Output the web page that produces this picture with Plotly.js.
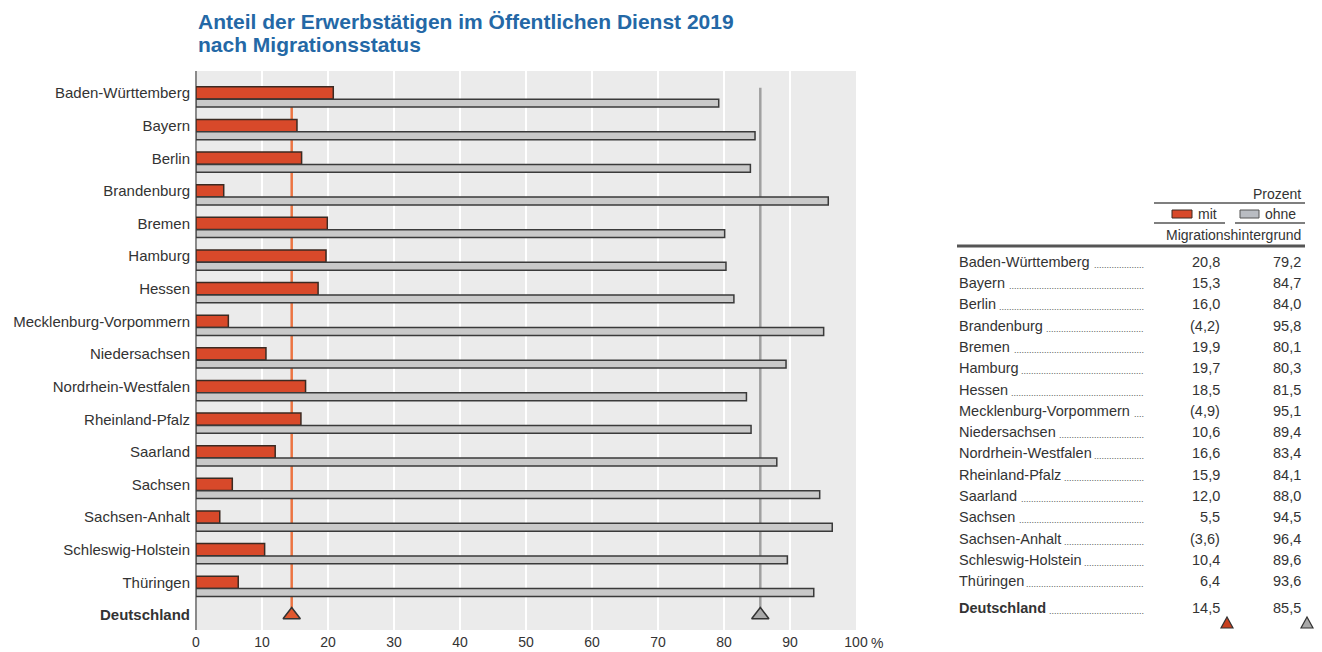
<!DOCTYPE html>
<html>
<head>
<meta charset="utf-8">
<script src="https://cdn.plot.ly/plotly-3.0.1.min.js"></script>
<style>html,body{margin:0;padding:0;background:#fff;}#chart{width:1322px;height:652px;}</style>
</head>
<body>
<div id="chart"></div>
<script>
// ---- data ----
const states = ["Baden-Württemberg","Bayern","Berlin","Brandenburg","Bremen","Hamburg","Hessen","Mecklenburg-Vorpommern","Niedersachsen","Nordrhein-Westfalen","Rheinland-Pfalz","Saarland","Sachsen","Sachsen-Anhalt","Schleswig-Holstein","Thüringen"];
const mitValues = [20.8,15.3,16.0,4.2,19.9,19.7,18.5,4.9,10.6,16.6,15.9,12.0,5.5,3.6,10.4,6.4];
const ohneValues = [79.2,84.7,84.0,95.8,80.1,80.3,81.5,95.1,89.4,83.4,84.1,88.0,94.5,96.4,89.6,93.6];
const mitBracketed = [false,false,false,true,false,false,false,true,false,false,false,false,false,true,false,false];
const totalLabel = "Deutschland";
const totalMit = 14.5;
const totalOhne = 85.5;
const xTickVals = [0,10,20,30,40,50,60,70,80,90,100];
const xTickText = ["0","10","20","30","40","50","60","70","80","90","100"];
const titleLines = ["Anteil der Erwerbstätigen im Öffentlichen Dienst 2019","nach Migrationsstatus"];
const unitText = "Prozent";
const legendMit = "mit";
const legendOhne = "ohne";
const legendSub = "Migrationshintergrund";

// ---- styling ----
const FAM = "'Liberation Sans', Arial, sans-serif";
const TXT = "#333333";
const ORANGE = "#d8492a";
const ORANGE_LINE = "#ec7442";
const GREY = "#c9c9c9";
const OUTLINE = "#3a3a3a";

const W = 1322, H = 652;
const M = {l:196, r:466, t:71, b:22};
const plotW = W - M.l - M.r, plotH = H - M.t - M.b;
const px = x => (x - M.l) / plotW;          // pixel x -> paper
const py = y => (H - M.b - y) / plotH;      // pixel y -> paper

const cnv = document.createElement('canvas').getContext('2d');
function textW(str, size, bold){ cnv.font = (bold?'bold ':'') + size + 'px "Liberation Sans", Arial, sans-serif'; return cnv.measureText(str).width; }

const n = states.length;
const yIdx = states.map((s,i)=>i);
const fmt = v => v.toFixed(1).replace('.', ',');

const traces = [
  {type:'bar', orientation:'h', x:mitValues, y:yIdx, base:0, offset:-0.19, width:0.375,
   marker:{color:ORANGE, line:{color:'#3b2a22', width:1.5}}, hoverinfo:'x'},
  {type:'bar', orientation:'h', x:ohneValues, y:yIdx, base:0, offset:0.19, width:0.24,
   marker:{color:GREY, line:{color:OUTLINE, width:1.5}}, hoverinfo:'x'},
  {type:'scatter', mode:'markers', x:[totalMit], y:[n], marker:{symbol:'triangle-up', size:15, color:'#e0582f', line:{color:'#333', width:1.5}}, hoverinfo:'x'},
  {type:'scatter', mode:'markers', x:[totalOhne], y:[n], marker:{symbol:'triangle-up', size:15, color:'#a9a9a9', line:{color:'#333', width:1.5}}, hoverinfo:'x'}
];

const shapes = [
  {type:'line', xref:'x', yref:'y', x0:totalMit, x1:totalMit, y0:-0.16, y1:n, line:{color:ORANGE_LINE, width:2.5}, layer:'below'},
  {type:'line', xref:'x', yref:'y', x0:totalOhne, x1:totalOhne, y0:-0.16, y1:n, line:{color:'#a0a0a0', width:2.5}, layer:'below'},
  // table rules
  {type:'line', xref:'paper', yref:'paper', x0:px(1154), x1:px(1305), y0:py(203), y1:py(203), line:{color:'#555', width:1.5}},
  {type:'line', xref:'paper', yref:'paper', x0:px(1154), x1:px(1225), y0:py(223), y1:py(223), line:{color:'#555', width:1.5}},
  {type:'line', xref:'paper', yref:'paper', x0:px(1235), x1:px(1305), y0:py(223), y1:py(223), line:{color:'#555', width:1.5}},
  {type:'line', xref:'paper', yref:'paper', x0:px(957), x1:px(1305), y0:py(246), y1:py(246), line:{color:'#555', width:3}},
  // legend boxes
  {type:'rect', xref:'paper', yref:'paper', x0:px(1172), x1:px(1192), y0:py(218), y1:py(210), fillcolor:ORANGE, line:{color:'#3b2a22', width:1}},
  {type:'rect', xref:'paper', yref:'paper', x0:px(1240), x1:px(1259), y0:py(218), y1:py(210), fillcolor:'#b9bcc2', line:{color:'#555', width:1}},
  // small triangles under totals
  {type:'path', xref:'paper', yref:'paper', path:`M ${px(1221)} ${py(628)} L ${px(1233)} ${py(628)} L ${px(1227)} ${py(617)} Z`, fillcolor:'#c8401f', line:{color:'#333', width:1.2}},
  {type:'path', xref:'paper', yref:'paper', path:`M ${px(1301)} ${py(628)} L ${px(1313)} ${py(628)} L ${px(1307)} ${py(617)} Z`, fillcolor:'#a9a9a9', line:{color:'#333', width:1.2}}
];

const annotations = [];
const tf = {family:FAM, size:14, color:TXT};
// title
const titleFont = {family:FAM, size:21, color:'#2468a6', weight:'bold'};
annotations.push({xref:'paper', yref:'paper', x:0, y:py(21), text:'<b>'+titleLines[0]+'</b>', showarrow:false, xanchor:'left', yanchor:'middle', font:titleFont});
annotations.push({xref:'paper', yref:'paper', x:0, y:py(45), text:'<b>'+titleLines[1]+'</b>', showarrow:false, xanchor:'left', yanchor:'middle', font:titleFont});
// table header
annotations.push({xref:'paper', yref:'paper', x:px(1303), y:py(194), text:unitText, showarrow:false, xanchor:'right', yanchor:'middle', font:tf});
annotations.push({xref:'paper', yref:'paper', x:px(1196), y:py(214), text:legendMit, showarrow:false, xanchor:'left', yanchor:'middle', font:tf});
annotations.push({xref:'paper', yref:'paper', x:px(1263), y:py(214), text:legendOhne, showarrow:false, xanchor:'left', yanchor:'middle', font:tf});
annotations.push({xref:'paper', yref:'paper', x:px(1303), y:py(235), text:legendSub, showarrow:false, xanchor:'right', yanchor:'middle', font:tf});
// percent sign after the 100 tick
annotations.push({xref:'paper', yref:'paper', x:px(869), y:py(643), text:'%', showarrow:false, xanchor:'left', yanchor:'middle', font:{family:FAM, size:14, color:TXT}});

const rowY0 = 261.7, rowStep = 21.3, totY = 608.3;
const rowSize = 14.5;
const dotsRight = 1145;
const dotSize = 9;
const dotW = textW('.', dotSize, false);
const rows = states.map((s,i)=>({name:s, mit:(mitBracketed[i]?'('+fmt(mitValues[i])+')':fmt(mitValues[i])), ohne:fmt(ohneValues[i]), y:rowY0+i*rowStep, bold:false}));
rows.push({name:totalLabel, mit:fmt(totalMit), ohne:fmt(totalOhne), y:totY, bold:true});
rows.forEach(r=>{
  const nameEnd = 958 + textW(r.name, rowSize, r.bold);
  const nDots = Math.max(0, Math.floor((dotsRight - nameEnd - 4) / dotW));
  annotations.push({xref:'paper', yref:'paper', x:px(958), y:py(r.y), text:r.bold?'<b>'+r.name+'</b>':r.name, showarrow:false, xanchor:'left', yanchor:'middle', borderpad:0, font:{family:FAM, size:rowSize, color:TXT}});
  if (nDots > 0) annotations.push({xref:'paper', yref:'paper', x:px(dotsRight), y:py(r.y+3), text:'.'.repeat(nDots), showarrow:false, xanchor:'right', yanchor:'middle', borderpad:0, font:{family:FAM, size:dotSize, color:'#555'}});
  annotations.push({xref:'paper', yref:'paper', x:px(1222), y:py(r.y), text:r.mit, showarrow:false, xanchor:'right', yanchor:'middle', font:{family:FAM, size:rowSize, color:TXT}});
  annotations.push({xref:'paper', yref:'paper', x:px(1303), y:py(r.y), text:r.ohne, showarrow:false, xanchor:'right', yanchor:'middle', font:{family:FAM, size:rowSize, color:TXT}});
});

const layout = {
  width:W, height:H,
  margin:M,
  paper_bgcolor:'#ffffff', plot_bgcolor:'#ebebeb',
  showlegend:false,
  barmode:'overlay',
  xaxis:{range:[0,100], tickvals:xTickVals, ticktext:xTickText, showgrid:true, gridcolor:'#ffffff', gridwidth:2,
         zeroline:true, zerolinecolor:'#8a8a8a', zerolinewidth:1.5, showline:false, ticks:'', ticklabelstandoff:2, fixedrange:true,
         tickfont:{family:FAM, size:14, color:TXT}},
  yaxis:{range:[n+0.46, -0.675], tickvals:yIdx.concat([n]), ticktext:states.concat(['<b>'+totalLabel+'</b>']),
         showgrid:false, zeroline:false, ticks:'', ticklabelstandoff:5, fixedrange:true,
         tickfont:{family:FAM, size:15, color:TXT}},
  shapes:shapes,
  annotations:annotations
};

Plotly.newPlot('chart', traces, layout, {displayModeBar:false, staticPlot:true});
</script>
</body>
</html>
